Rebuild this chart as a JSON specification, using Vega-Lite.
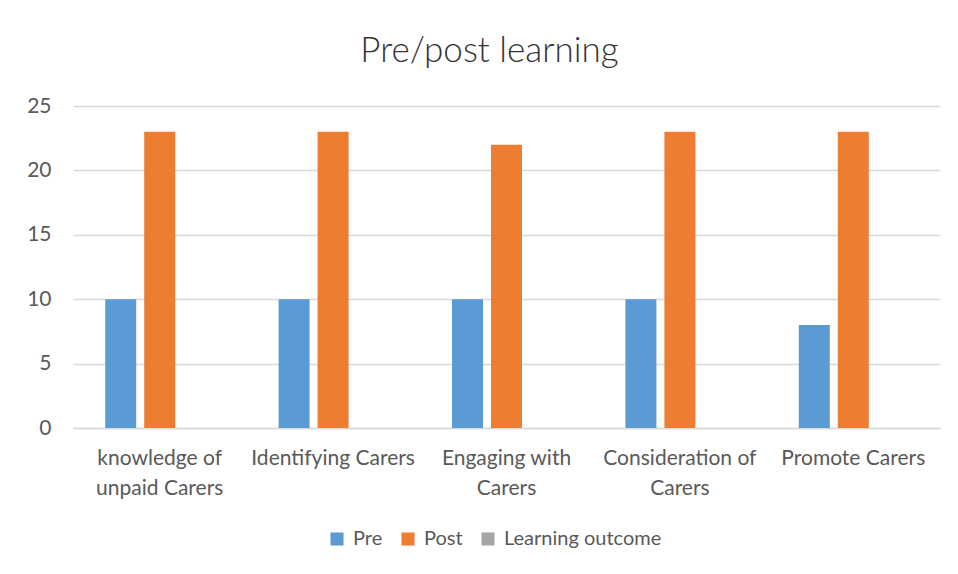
{
  "$schema": "https://vega.github.io/schema/vega-lite/v6.json",
  "autosize": {"type": "none"},
  "width": 867,
  "height": 322,
  "padding": {"left": 73, "top": 106, "right": 18, "bottom": 146},
  "background": "white",
  "title": {
    "text": "Pre/post learning",
    "anchor": "middle",
    "frame": "group",
    "font": "Lato",
    "fontWeight": 300,
    "fontSize": 35,
    "color": "#333333",
    "offset": 26,
    "dx": -17
  },
  "data": {
    "values": [
      {"topic": "knowledge of unpaid Carers", "series": "Pre", "value": 10},
      {"topic": "knowledge of unpaid Carers", "series": "Post", "value": 23},
      {"topic": "knowledge of unpaid Carers", "series": "Learning outcome", "value": 0},
      {"topic": "Identifying Carers", "series": "Pre", "value": 10},
      {"topic": "Identifying Carers", "series": "Post", "value": 23},
      {"topic": "Identifying Carers", "series": "Learning outcome", "value": 0},
      {"topic": "Engaging with Carers", "series": "Pre", "value": 10},
      {"topic": "Engaging with Carers", "series": "Post", "value": 22},
      {"topic": "Engaging with Carers", "series": "Learning outcome", "value": 0},
      {"topic": "Consideration of Carers", "series": "Pre", "value": 10},
      {"topic": "Consideration of Carers", "series": "Post", "value": 23},
      {"topic": "Consideration of Carers", "series": "Learning outcome", "value": 0},
      {"topic": "Promote Carers", "series": "Pre", "value": 8},
      {"topic": "Promote Carers", "series": "Post", "value": 23},
      {"topic": "Promote Carers", "series": "Learning outcome", "value": 0}
    ]
  },
  "mark": {"type": "bar"},
  "encoding": {
    "x": {
      "field": "topic",
      "type": "nominal",
      "sort": null,
      "scale": {"paddingInner": 0, "paddingOuter": 0},
      "axis": {
        "title": null,
        "labelAngle": 0,
        "labelFont": "Lato",
        "labelFontSize": 21,
        "labelColor": "#595959",
        "labelPadding": 19,
        "labelLineHeight": 30,
        "labelBaseline": "top",
        "ticks": false,
        "domainColor": "#d9d9d9",
        "domainWidth": 1.5,
        "labelExpr": "datum.label == 'knowledge of unpaid Carers' ? ['knowledge of', 'unpaid Carers'] : datum.label == 'Engaging with Carers' ? ['Engaging with', 'Carers'] : datum.label == 'Consideration of Carers' ? ['Consideration of', 'Carers'] : datum.label"
      }
    },
    "xOffset": {
      "field": "series",
      "type": "nominal",
      "sort": ["Pre", "Post", "Learning outcome"],
      "scale": {"paddingInner": 0.205, "paddingOuter": 0.826}
    },
    "y": {
      "field": "value",
      "type": "quantitative",
      "scale": {"domain": [0, 25]},
      "axis": {
        "title": null,
        "values": [0, 5, 10, 15, 20, 25],
        "labelFont": "Lato",
        "labelFontSize": 21,
        "labelColor": "#595959",
        "labelPadding": 22,
        "ticks": false,
        "domain": false,
        "gridColor": "#d9d9d9",
        "gridWidth": 1.5
      }
    },
    "color": {
      "field": "series",
      "type": "nominal",
      "sort": ["Pre", "Post", "Learning outcome"],
      "scale": {
        "domain": ["Pre", "Post", "Learning outcome"],
        "range": ["#5B9BD5", "#ED7D31", "#A5A5A5"]
      },
      "legend": {
        "title": null,
        "orient": "none",
        "legendX": 254,
        "legendY": 423,
        "direction": "horizontal",
        "symbolType": "square",
        "symbolSize": 170,
        "symbolStrokeWidth": 0,
        "labelFont": "Lato",
        "labelFontSize": 20,
        "labelColor": "#595959",
        "columnPadding": 15,
        "labelOffset": 6
      }
    }
  },
  "config": {
    "view": {"stroke": null},
    "bar": {"stroke": null}
  }
}
